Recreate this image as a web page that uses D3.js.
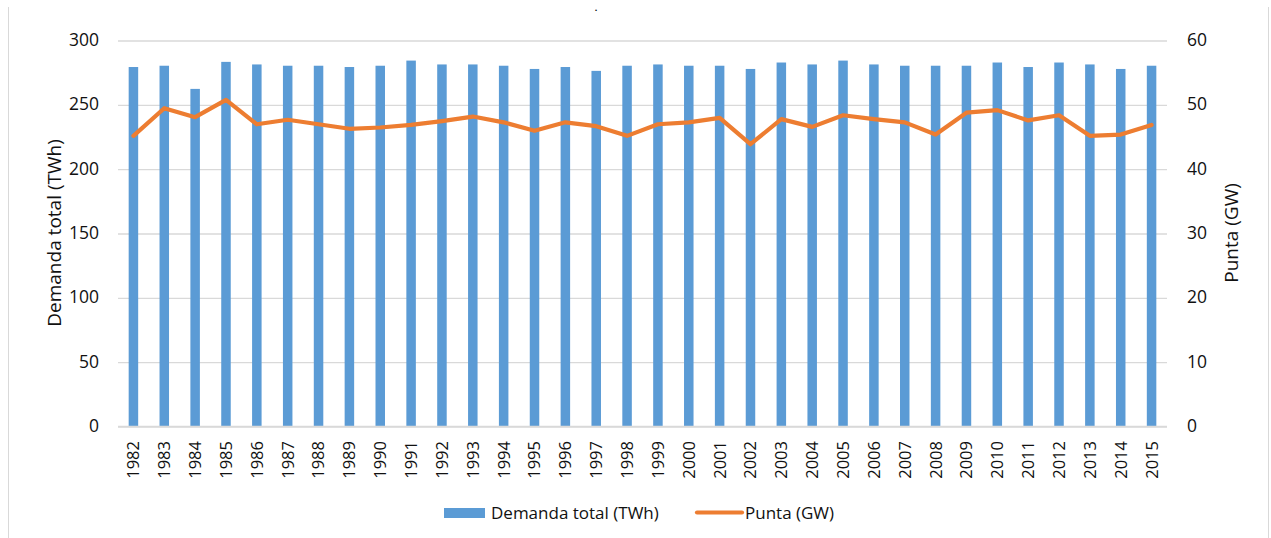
<!DOCTYPE html>
<html>
<head>
<meta charset="utf-8">
<script src="https://cdn.jsdelivr.net/npm/d3@7"></script>
<style>
  html, body { margin: 0; padding: 0; background: #fff; }
  svg { display: block; font-family: "Open Sans", sans-serif; }
</style>
</head>
<body>
<svg id="chart" width="1271" height="538"></svg>
<script>
// Annual electricity demand (TWh, bars) and peak load (GW, line)
const years = ["1982","1983","1984","1985","1986","1987","1988","1989","1990","1991",
  "1992","1993","1994","1995","1996","1997","1998","1999","2000","2001",
  "2002","2003","2004","2005","2006","2007","2008","2009","2010","2011",
  "2012","2013","2014","2015"];

const demandaTWh = [279, 280, 262, 283, 281, 280, 280, 279, 280, 284,
  281, 281, 280, 277.5, 279, 276, 280, 281, 280, 280,
  277.5, 282.5, 281, 284, 281, 280, 280, 280, 282.5, 279,
  282.5, 281, 277.5, 280];

const puntaGW = [45.1, 49.4, 48.0, 50.7, 46.9, 47.6, 46.9, 46.2, 46.4, 46.8,
  47.4, 48.1, 47.2, 45.9, 47.2, 46.6, 45.1, 46.9, 47.2, 47.9,
  43.8, 47.7, 46.5, 48.3, 47.7, 47.2, 45.3, 48.7, 49.1, 47.5,
  48.3, 45.1, 45.3, 46.8];

const leftTicks = [0, 50, 100, 150, 200, 250, 300];
const rightTicks = [0, 10, 20, 30, 40, 50, 60];

const leftTitle = "Demanda total (TWh)";
const rightTitle = "Punta (GW)";
const legendItems = ["Demanda total (TWh)", "Punta (GW)"];

const BLUE = "#5B9BD5", ORANGE = "#ED7D31", GRID = "#d9d9d9", TEXT = "#111";

const svg = d3.select("#chart");
const plot = { left: 118, right: 1167, top: 40, bottom: 426 };

const x = d3.scaleBand()
  .domain(years)
  .range([plot.left, plot.right])
  .paddingInner(0.692)
  .paddingOuter(0.346);

const yL = d3.scaleLinear().domain([0, 300]).range([plot.bottom, plot.top]);
const yR = d3.scaleLinear().domain([0, 60]).range([plot.bottom, plot.top]);

// outer frame sides
svg.append("line").attr("x1", 8.5).attr("x2", 8.5).attr("y1", 7).attr("y2", 538)
  .attr("stroke", GRID).attr("stroke-width", 1);
svg.append("line").attr("x1", 1268.5).attr("x2", 1268.5).attr("y1", 7).attr("y2", 538)
  .attr("stroke", GRID).attr("stroke-width", 1);

// small title mark
svg.append("text").attr("x", 596).attr("y", 11).attr("text-anchor", "middle")
  .attr("font-size", 9).attr("font-weight", "bold").attr("fill", "#000").text(".");

// gridlines
const grid = svg.append("g").attr("transform", `translate(${plot.left},0.5)`)
  .call(d3.axisLeft(yL).tickValues(leftTicks).tickSize(-(plot.right - plot.left)).tickFormat(""));
grid.select(".domain").remove();
grid.selectAll(".tick line").attr("stroke", GRID).attr("stroke-width", 1.3);

// bars
svg.append("g").selectAll("rect").data(years).join("rect")
  .attr("x", d => x(d))
  .attr("width", x.bandwidth())
  .attr("y", (d, i) => yL(demandaTWh[i]))
  .attr("height", (d, i) => yL(0) - yL(demandaTWh[i]))
  .attr("fill", BLUE);

// line
const line = d3.line()
  .x((d, i) => x(years[i]) + x.bandwidth() / 2)
  .y(d => yR(d));
svg.append("path").datum(puntaGW)
  .attr("d", line)
  .attr("fill", "none")
  .attr("stroke", ORANGE)
  .attr("stroke-width", 4.2)
  .attr("stroke-linejoin", "round")
  .attr("stroke-linecap", "round");

// left axis
const axL = svg.append("g").attr("transform", `translate(${plot.left},0)`)
  .call(d3.axisLeft(yL).tickValues(leftTicks).tickSize(0).tickPadding(19));
axL.select(".domain").remove();
axL.selectAll("text").attr("font-size", 17.5).attr("fill", TEXT).attr("font-family", "Open Sans");

// right axis
const axR = svg.append("g").attr("transform", `translate(${plot.right},0)`)
  .call(d3.axisRight(yR).tickValues(rightTicks).tickSize(0).tickPadding(20));
axR.select(".domain").remove();
axR.selectAll("text").attr("font-size", 17.5).attr("fill", TEXT).attr("font-family", "Open Sans");

// bottom axis with vertical year labels
const axB = svg.append("g").attr("transform", `translate(0,${plot.bottom})`)
  .call(d3.axisBottom(x).tickSize(0));
axB.select(".domain").attr("stroke", GRID).attr("stroke-width", 1.3)
  .attr("d", `M${plot.left},0.5H${plot.right}`);
axB.selectAll("text")
  .attr("font-size", 16.5).attr("fill", TEXT).attr("font-family", "Open Sans")
  .attr("x", 0).attr("y", 0).attr("dy", "0.36em")
  .attr("text-anchor", "end")
  .attr("transform", "translate(0,15) rotate(-90)");

// axis titles
svg.append("text")
  .attr("transform", `translate(54,233) rotate(-90)`)
  .attr("text-anchor", "middle").attr("dy", "0.36em")
  .attr("font-size", 19).attr("fill", TEXT).text(leftTitle);
svg.append("text")
  .attr("transform", `translate(1231,233) rotate(-90)`)
  .attr("text-anchor", "middle").attr("dy", "0.36em")
  .attr("font-size", 19).attr("fill", TEXT).text(rightTitle);

// legend
const lg = svg.append("g");
lg.append("rect").attr("x", 444).attr("y", 508).attr("width", 41).attr("height", 10).attr("fill", BLUE);
lg.append("text").attr("x", 491).attr("y", 519).attr("font-size", 17).attr("fill", TEXT).text(legendItems[0]);
lg.append("line").attr("x1", 697).attr("x2", 742).attr("y1", 512.5).attr("y2", 512.5)
  .attr("stroke", ORANGE).attr("stroke-width", 4.2).attr("stroke-linecap", "round");
lg.append("text").attr("x", 745).attr("y", 519).attr("font-size", 17).attr("fill", TEXT).text(legendItems[1]);
</script>
</body>
</html>
